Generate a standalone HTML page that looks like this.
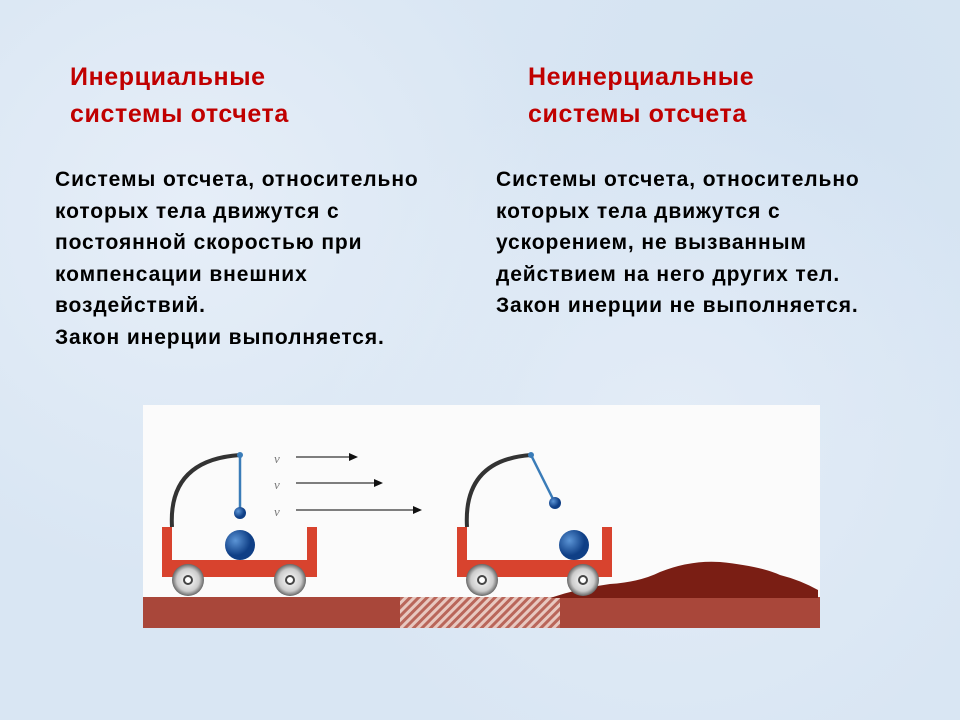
<!DOCTYPE html>
<html><head><meta charset="utf-8"><style>
body{margin:0;width:960px;height:720px;overflow:hidden;background:#dbe7f4;position:relative;font-family:"Liberation Sans",sans-serif;}
.bg{position:absolute;inset:0;background:radial-gradient(circle at 20% 30%,#e6eef8 0,transparent 40%),radial-gradient(circle at 70% 60%,#e3ecf7 0,transparent 45%),radial-gradient(circle at 85% 15%,#d3e2f2 0,transparent 35%),#d9e6f3;}
.t{position:absolute;color:#c00000;font-weight:bold;font-size:25px;line-height:37px;letter-spacing:0.6px;}
.b{position:absolute;color:#000;font-weight:bold;font-size:21px;line-height:31.6px;white-space:nowrap;letter-spacing:0.9px;}
</style></head><body>
<div class="bg"></div>
<div class="t" style="left:70px;top:59px">Инерциальные<br>системы отсчета</div>
<div class="t" style="left:528px;top:59px">Неинерциальные<br>системы отсчета</div>
<div class="b" style="left:55px;top:164px">Системы отсчета, относительно<br>которых тела движутся с<br>постоянной скоростью при<br>компенсации внешних<br>воздействий.<br>Закон инерции выполняется.</div>
<div class="b" style="left:496px;top:164px">Системы отсчета, относительно<br>которых тела движутся с<br>ускорением, не вызванным<br>действием на него других тел.<br>Закон инерции не выполняется.</div>
<svg style="position:absolute;left:0;top:0" width="960" height="720">
<defs>
<pattern id="h" width="6" height="6" patternUnits="userSpaceOnUse" patternTransform="rotate(45)"><rect width="6" height="6" fill="#b9665a"/><rect width="3" height="6" fill="#e8c8c0"/></pattern>
<radialGradient id="bb" cx="0.35" cy="0.35"><stop offset="0" stop-color="#5c95d6"/><stop offset="1" stop-color="#0f3f86"/></radialGradient>
<radialGradient id="wh" cx="0.5" cy="0.5"><stop offset="0" stop-color="#fff"/><stop offset="0.7" stop-color="#ccc"/><stop offset="1" stop-color="#666"/></radialGradient>
</defs>
<rect x="143" y="405" width="677" height="223" fill="#fbfbfb"/>
<rect x="143" y="597" width="677" height="31" fill="#a9473a"/>
<rect x="400" y="597" width="160" height="31" fill="url(#h)"/>
<path d="M550 598 Q580 588 610 584 Q640 582 660 572 Q690 560 720 562 Q760 566 780 575 Q800 580 818 590 L818 598 Z" fill="#7a1e14"/>
<g>
<path d="M172 527 Q168 460 240 455" stroke="#333" stroke-width="4" fill="none"/>
<line x1="240" y1="455" x2="240" y2="513" stroke="#3a7cb8" stroke-width="2.5"/>
<circle cx="240" cy="455" r="3" fill="#3a7cb8"/>
<circle cx="240" cy="513" r="6" fill="url(#bb)"/>
<circle cx="240" cy="545" r="15" fill="url(#bb)"/>
<rect x="162" y="527" width="10" height="50" fill="#d8432e"/>
<rect x="307" y="527" width="10" height="50" fill="#d8432e"/>
<rect x="162" y="560" width="155" height="17" fill="#d8432e"/>
<circle cx="188" cy="580" r="16" fill="url(#wh)"/><circle cx="188" cy="580" r="4" fill="#fff" stroke="#444" stroke-width="2"/>
<circle cx="290" cy="580" r="16" fill="url(#wh)"/><circle cx="290" cy="580" r="4" fill="#fff" stroke="#444" stroke-width="2"/>
</g>
<g stroke="#555" stroke-width="1.5"><line x1="296" y1="457" x2="350" y2="457"/><line x1="296" y1="483" x2="375" y2="483"/><line x1="296" y1="510" x2="414" y2="510"/></g>
<g fill="#111"><path d="M358 457 l-9 -4 v8z"/><path d="M383 483 l-9 -4 v8z"/><path d="M422 510 l-9 -4 v8z"/></g>
<g font-family="Liberation Serif,serif" font-style="italic" font-size="13" fill="#777"><text x="274" y="463">v</text><text x="274" y="489">v</text><text x="274" y="516">v</text></g>
<g>
<path d="M467 527 Q463 460 531 455" stroke="#333" stroke-width="4" fill="none"/>
<line x1="531" y1="455" x2="555" y2="503" stroke="#3a7cb8" stroke-width="2.5"/>
<circle cx="531" cy="455" r="3" fill="#3a7cb8"/>
<circle cx="555" cy="503" r="6" fill="url(#bb)"/>
<circle cx="574" cy="545" r="15" fill="url(#bb)"/>
<rect x="457" y="527" width="10" height="50" fill="#d8432e"/>
<rect x="602" y="527" width="10" height="50" fill="#d8432e"/>
<rect x="457" y="560" width="155" height="17" fill="#d8432e"/>
<circle cx="482" cy="580" r="16" fill="url(#wh)"/><circle cx="482" cy="580" r="4" fill="#fff" stroke="#444" stroke-width="2"/>
<circle cx="583" cy="580" r="16" fill="url(#wh)"/><circle cx="583" cy="580" r="4" fill="#fff" stroke="#444" stroke-width="2"/>
</g>
</svg>
</body></html>
